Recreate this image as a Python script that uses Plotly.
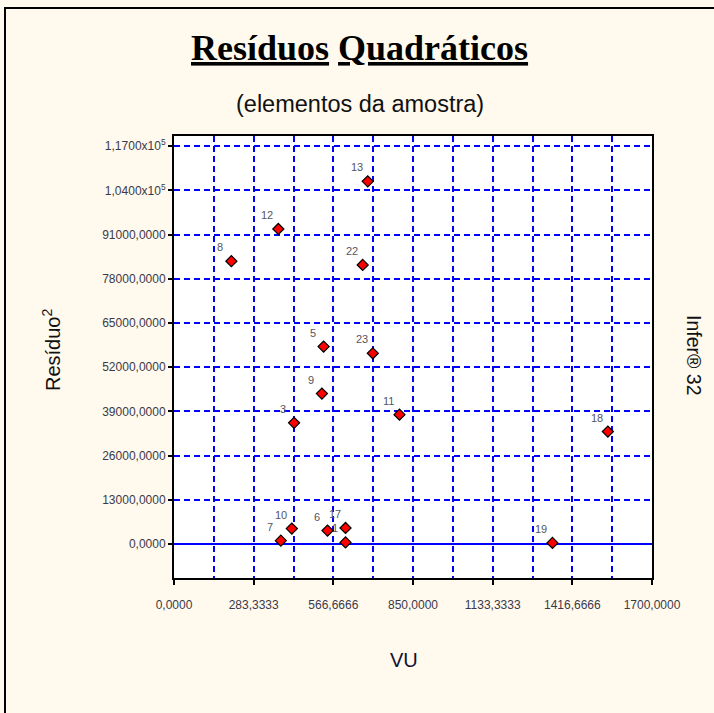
import plotly.graph_objects as go

# ---- data ----
labels = ["8", "12", "13", "22", "5", "23", "9", "3", "11", "18", "19", "10", "7", "6", "17", "1"]
vu = [204, 371, 689, 671, 532, 707, 526, 427, 802, 1543, 1346, 419, 380, 546, 610, 610]
res2 = [83170, 92650, 106670, 82070, 58060, 56100, 44250, 35650, 38030, 33080, 300, 4530, 980, 3940, 4710, 470]

x_tickvals = [0, 283.3333, 566.6666, 850, 1133.3333, 1416.6666, 1700]
x_ticktext = ["0,0000", "283,3333", "566,6666", "850,0000", "1133,3333", "1416,6666", "1700,0000"]
y_tickvals = [0, 13000, 26000, 39000, 52000, 65000, 78000, 91000, 104000, 117000]
y_ticktext = ["0,0000", "13000,0000", "26000,0000", "39000,0000", "52000,0000",
              "65000,0000", "78000,0000", "91000,0000",
              "1,0400x10<sup>5</sup>", "1,1700x10<sup>5</sup>"]

BG = "#FFF9EE"
BLUE = "#0000FF"
TICKCOL = "#3a3a4a"

fig = go.Figure()
fig.add_trace(go.Scatter(
    x=vu, y=res2, mode="markers",
    marker=dict(symbol="diamond", size=8.5, color="#FF0000",
                line=dict(color="black", width=1.2)),
    hoverinfo="skip", showlegend=False,
))

annotations = []
for lab, xv, yv in zip(labels, vu, res2):
    annotations.append(dict(
        x=xv, y=yv, xref="x", yref="y", text=lab, showarrow=False,
        xshift=-11, yshift=14, font=dict(size=11, color="#555560",
                                         family="Liberation Sans, Arial")))

# titles / axis titles (paper coordinates relative to plot area)
L, R, T, B = 174, 62, 136, 135
W, H = 714, 713
pw, ph = W - L - R, H - T - B


def px(xp):
    return (xp - L) / pw


def py(yp):
    return (H - B - yp) / ph


annotations += [
    dict(x=px(359), y=py(48), xref="paper", yref="paper",
         text="<b><u>Resíduos</u></b> <b><u>Quadráticos</u></b>",
         showarrow=False, xanchor="center", yanchor="middle",
         font=dict(family="Liberation Serif, Times New Roman", size=36, color="black")),
    dict(x=px(360), y=py(104), xref="paper", yref="paper",
         text="(elementos da amostra)", showarrow=False,
         xanchor="center", yanchor="middle",
         font=dict(family="Liberation Sans, Arial", size=23.5, color="#111111")),
    dict(x=px(51), y=py(350), xref="paper", yref="paper",
         text="Resíduo<sup>2</sup>", showarrow=False, textangle=-90,
         xanchor="center", yanchor="middle",
         font=dict(family="Liberation Sans, Arial", size=20, color="#111111")),
    dict(x=px(404), y=py(660), xref="paper", yref="paper",
         text="VU", showarrow=False, xanchor="center", yanchor="middle",
         font=dict(family="Liberation Sans, Arial", size=20, color="#111133")),
    dict(x=px(694), y=py(355), xref="paper", yref="paper",
         text="Infer® 32", showarrow=False, textangle=90,
         xanchor="center", yanchor="middle",
         font=dict(family="Liberation Sans, Arial", size=19.5, color="#111111")),
]

fig.update_layout(
    width=W, height=H,
    margin=dict(l=L, r=R, t=T, b=B, pad=0),
    paper_bgcolor=BG, plot_bgcolor="white",
    annotations=annotations,
    showlegend=False,
    shapes=[dict(type="rect", xref="paper", yref="paper",
                 x0=px(5), x1=px(760), y0=py(8), y1=py(760),
                 line=dict(color="black", width=2), fillcolor="rgba(0,0,0,0)",
                 layer="below")],
)

fig.update_xaxes(
    range=[0, 1700], tickvals=x_tickvals, ticktext=x_ticktext,
    showline=True, linecolor="black", linewidth=2, mirror=True,
    ticks="outside", ticklen=5, tickcolor="black", tickwidth=1.5,
    ticklabelstandoff=10,
    tickfont=dict(family="Liberation Sans, Arial", size=12, color=TICKCOL),
    showgrid=True, gridcolor=BLUE, gridwidth=2, griddash="6px,4px",
    minor=dict(tickvals=[141.6667, 425, 708.3333, 991.6667, 1275, 1558.3333],
               showgrid=True, gridcolor=BLUE, gridwidth=2, griddash="6px,4px",
               ticks=""),
    zeroline=False,
)
fig.update_yaxes(
    range=[-10000, 120000], tickvals=y_tickvals, ticktext=y_ticktext,
    showline=True, linecolor="black", linewidth=2, mirror=True,
    ticks="outside", ticklen=4, tickcolor="black", tickwidth=1.5,
    tickfont=dict(family="Liberation Sans, Arial", size=12, color=TICKCOL),
    showgrid=True, gridcolor=BLUE, gridwidth=2, griddash="6px,4px",
    zeroline=True, zerolinecolor=BLUE, zerolinewidth=2,
)

fig.write_html("out.html")
